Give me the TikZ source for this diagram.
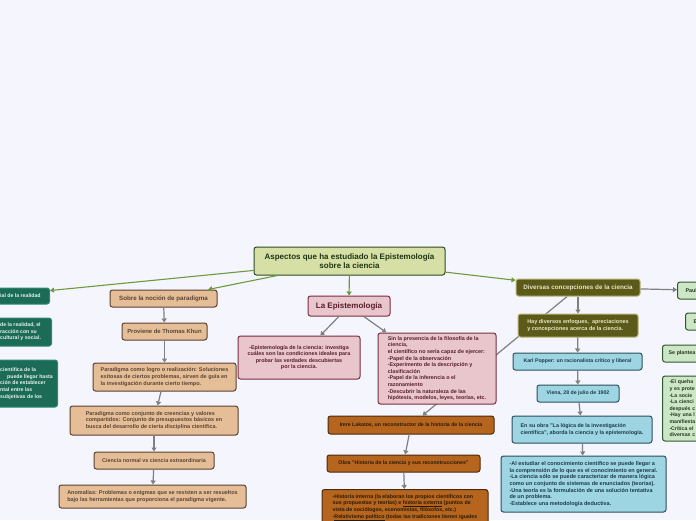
\documentclass[tikz,border=0pt]{standalone}
\usepackage{fontspec}
\setmainfont{Liberation Sans}
\usetikzlibrary{arrows.meta,backgrounds}
\definecolor{bgcol}{HTML}{F4F5FD}
\definecolor{cfill}{HTML}{D6E0A6}\definecolor{cdraw}{HTML}{2E4A20}\definecolor{ctext}{HTML}{1E3512}
\definecolor{dgfill}{HTML}{1B6B57}\definecolor{dgdraw}{HTML}{2E8A6E}\definecolor{dgtext}{HTML}{E6F2EC}
\definecolor{tfill}{HTML}{E5BE98}\definecolor{tdraw}{HTML}{5A4030}\definecolor{ttext}{HTML}{5A4535}
\definecolor{pfill}{HTML}{E8C6CB}\definecolor{pdraw}{HTML}{7A2E3E}\definecolor{ptext}{HTML}{5A1E2E}
\definecolor{bfill}{HTML}{B5651D}\definecolor{bdraw}{HTML}{4A2A10}\definecolor{btext}{HTML}{2A1A08}
\definecolor{ofill}{HTML}{5C5A18}\definecolor{odraw}{HTML}{B8B478}\definecolor{otext}{HTML}{E8E6C8}
\definecolor{lbfill}{HTML}{9DD6E2}\definecolor{lbdraw}{HTML}{2E4E5E}\definecolor{lbtext}{HTML}{1E3A4A}
\definecolor{lgfill}{HTML}{CDE6C6}\definecolor{lgdraw}{HTML}{2E5A2E}\definecolor{lgtext}{HTML}{1E3A1E}
\definecolor{greyline}{HTML}{808080}\definecolor{greenline}{HTML}{6F9A3C}
\tikzset{
  box/.style={rounded corners=2.5pt, line width=1pt, inner sep=3pt, font=\fontsize{5.5}{6.6}\selectfont\bfseries},
  fs/.style={font=\fontsize{#1}{6.6}\selectfont\bfseries},
  cbox/.style={box, fill=cfill, draw=cdraw, text=ctext},
  dgbox/.style={box, fill=dgfill, draw=dgdraw, text=dgtext},
  dgtxt/.style={inner sep=0pt, text=dgtext, align=left, font=\fontsize{5.2}{6.6}\selectfont\bfseries},
  tbox/.style={box, fill=tfill, draw=tdraw, text=ttext},
  pbox/.style={box, fill=pfill, draw=pdraw, text=ptext},
  bbox/.style={box, fill=bfill, draw=bdraw, text=btext},
  obox/.style={box, fill=ofill, draw=odraw, text=otext},
  lbbox/.style={box, fill=lbfill, draw=lbdraw, text=lbtext},
  lgbox/.style={box, fill=lgfill, draw=lgdraw, text=lgtext},
  garrow/.style={draw=greyline, line width=1.2pt, -{Triangle[width=5pt,length=4pt]}},
  grarrow/.style={draw=greenline, line width=1.1pt, -{Triangle[width=5pt,length=4pt]}},
}
\begin{document}
\begin{tikzpicture}[x=1pt,y=-1pt]
\useasboundingbox (0,0) rectangle (696,520);
% centre
\node[cbox, minimum width=191pt, minimum height=28pt, align=center, font=\fontsize{8}{9}\selectfont\bfseries] (center) at (349.5,261) {Aspectos que ha estudiado la Epistemología\\sobre la ciencia};
% left dark green (cut)
\node[dgbox, anchor=east, minimum width=110pt, minimum height=16pt] (left1) at (50,296) {};
\node[dgtxt, anchor=west] (left1t) at (0,296) {ial de la realidad};
\node[dgbox, anchor=east, minimum width=110pt, minimum height=28pt] (left2) at (52,332) {};
\node[dgtxt, anchor=west] (left2t) at (0,332) {de la realidad, el\\racción con su\\cultural y social.};
\node[dgbox, anchor=east, minimum width=110pt, minimum height=47pt] (left3) at (58,383.5) {};
\node[dgtxt, anchor=west] (left3t) at (0,383.5) {científica de la\\\hspace{7pt}puede llegar hasta\\ción de establecer\\ntal entre las\\subjetivas de los};
% paradigm column
\node[tbox, fs=6.2, minimum width=107pt, minimum height=17pt] (sobre) at (163.5,298.5) {Sobre la noción de paradigma};
\node[tbox, fs=5.9, minimum width=85pt, minimum height=17pt] (proviene) at (164.5,331.5) {Proviene de Thomas Khun};
\node[tbox, minimum width=143pt, minimum height=28pt, align=left] (logro) at (164.5,377) {Paradigma como logro o realización: Soluciones\\exitosas de ciertos problemas, sirven de guía en\\la investigación durante cierto tiempo.};
\node[tbox, minimum width=168pt, minimum height=29pt, align=left] (conjunto) at (154,420.5) {Paradigma como conjunto de creencias y valores\\compartidos: Conjunto de presupuestos básicos en\\busca del desarrollo de cierta disciplina científica.};
\node[tbox, fs=5.4, minimum width=120pt, minimum height=17pt] (ciencia) at (154,460.5) {Ciencia normal vs ciencia extraordinaria};
\node[tbox, minimum width=187pt, minimum height=23pt, align=left] (anomalias) at (152.5,496.5) {Anomalías: Problemas o enigmas que se resisten a ser resueltos\\bajo las herramientas que proporciona el paradigma vigente.};
% pink
\node[pbox, minimum width=82pt, minimum height=20pt, font=\fontsize{8}{9}\selectfont\bfseries] (epist) at (349,306) {La Epistemología};
\node[pbox, fs=5.4, minimum width=122pt, minimum height=43pt, align=center] (epc) at (299,357.5) {-Epistemología de la ciencia: investiga\\cuáles son las condiciones ideales para\\probar las verdades descubiertas\\por la ciencia.};
\node[pbox, fs=5.4, minimum width=118pt, minimum height=71pt, align=left] (sin) at (437,368.5) {Sin la presencia de la filosofía de la\\ciencia,\\el científico no sería capaz de ejercer:\\-Papel de la observación\\-Experimento de la descripción y\\clasificación\\-Papel de la inferencia o el\\razonamiento\\-Descubrir la naturaleza de las\\hipótesis, modelos, leyes, teorías, etc.};
% brown
\node[bbox, fs=5.2, minimum width=166pt, minimum height=18pt] (imre) at (411,425) {Imre Lakatos, un reconstructor de la historia de la ciencia};
\node[bbox, fs=5.2, minimum width=153pt, minimum height=17pt] (obra) at (403.5,463.5) {Obra "Historia de la ciencia y sus reconstrucciones"};
\node[bbox, fs=5.3, anchor=north, minimum width=166pt, align=left, inner ysep=5pt] (hist) at (405,489) {-Historia interna (la elaboran los propios científicos con\\sus propuestas y teorías) e \underline{historia externa} (puntos de\\vista de sociólogos, economistas, filósofos, etc.)\\-\underline{Relativismo político} (todas las tradiciones tienen iguales};
% olive
\node[obox, fs=6.3, minimum width=124pt, minimum height=17pt] (div) at (578,287.5) {Diversas concepciones de la ciencia};
\node[obox, minimum width=120pt, minimum height=23pt, align=left] (hay) at (578,325.5) {Hay diversos enfoques,\ \ apreciaciones\\y concepciones acerca de la ciencia.};
% blue
\node[lbbox, fs=5.2, minimum width=129pt, minimum height=17pt] (karl) at (577.5,361.5) {Karl Popper: un racionalista crítico y liberal};
\node[lbbox, fs=5.2, minimum width=82pt, minimum height=17pt] (viena) at (578,393.5) {Viena, 28 de julio de 1902};
\node[lbbox, fs=5.4, minimum width=140pt, minimum height=27pt, align=left] (ensu) at (582,429.5) {En su obra "La lógica de la investigación\\científica", aborda la ciencia y la epistemología.};
\node[lbbox, minimum width=165pt, minimum height=56pt, align=left] (alest) at (583.5,484) {-Al estudiar el conocimiento científico se puede llegar a\\la comprensión de lo que es el conocimiento en general.\\-La ciencia sólo se puede caracterizar de manera lógica\\como un conjunto de sistemas de enunciados (teorías).\\-Una teoría es la formulación de una solución tentativa\\de un problema.\\-Establece una metodología deductiva.};
% far right light green (cut)
\node[lgbox, fs=5.4, anchor=west, minimum height=17pt, text width=50pt, inner xsep=8pt, align=left] (paul) at (677,290.5) {Paul};
\node[lgbox, fs=5.4, anchor=west, minimum height=17pt, text width=50pt, inner xsep=8pt, align=left] (ebox) at (685,321.5) {E};
\node[lgbox, fs=5.3, anchor=west, minimum height=17pt, text width=60pt, inner xsep=6pt, align=left] (se) at (662,353.5) {Se plantea};
\node[lgbox, fs=5.2, anchor=west, minimum height=65pt, text width=60pt, inner xsep=7pt, align=left] (big) at (662,408.5) {-El queha\\y es prote\\-La socie\\-La cienci\\después c\\-Hay una l\\manifiesta\\-Crítica el\\diversas c};
% connectors
\begin{scope}[on background layer]
\fill[bgcol] (0,0) rectangle (696,520);
\draw[garrow] (div) -- (imre);
\end{scope}
\draw[grarrow] (center) -- (left1);
\draw[grarrow] (center) -- (sobre);
\draw[grarrow] (center) -- (epist);
\draw[grarrow] (center) -- (div);
\draw[garrow] (sobre) -- (proviene);
\draw[garrow] (proviene) -- (logro);
\draw[garrow] (logro) -- (conjunto);
\draw[garrow] (conjunto) -- (ciencia);
\draw[garrow] (ciencia) -- (anomalias);
\draw[garrow] (epist) -- (epc);
\draw[garrow] (epist) -- (sin);
\draw[garrow] (imre) -- (obra);
\draw[garrow] (obra) -- (hist);
\draw[garrow] (div) -- (hay);
\draw[garrow] (hay) -- (karl);
\draw[garrow] (karl) -- (viena);
\draw[garrow] (viena) -- (ensu);
\draw[garrow] (ensu) -- (alest);
\draw[garrow] (div) -- (paul);
\end{tikzpicture}
\end{document}
